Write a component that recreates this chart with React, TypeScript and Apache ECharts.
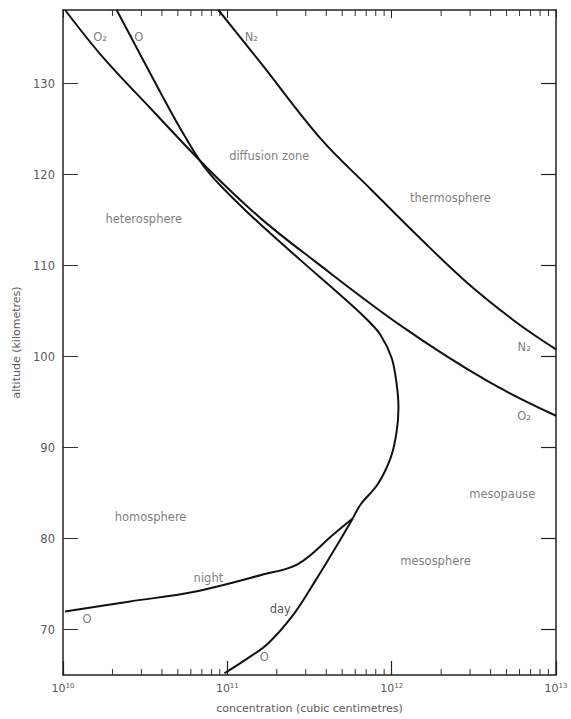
import React, { useEffect, useRef } from "react";
import * as echarts from "echarts";

// Number density profiles: [concentration (cm^-3), altitude (km)]
const n2Curve: [number, number][] = [
  [8.82e10, 138.1], [1.61e11, 132.2], [3.72e11, 123.9], [7.46e11, 118.4],
  [1.5e12, 112.95], [2.89e12, 108.1], [5.81e12, 103.7], [1e13, 100.8],
];
const o2Curve: [number, number][] = [
  [1.03e10, 138.1], [1.72e10, 133.06], [3.46e10, 127.16], [7.67e10, 120.6],
  [1.61e11, 115.14], [3.37e11, 110.55], [1.13e12, 103.44], [3.82e12, 97.32], [1e13, 93.5],
];
const oUpperCurve: [number, number][] = [
  [2.12e10, 138.1], [2.81e10, 133.93], [3.98e10, 128.8], [5.48e10, 124.3],
  [7.67e10, 120.27], [1.4e11, 115.46], [2.81e11, 110.55], [4.91e11, 106.72],
  [6.95e11, 104.21], [8.57e11, 102.35], [1.0e12, 99.84], [1.07e12, 97.1],
  [1.1e12, 94.37], [1.07e12, 91.64], [9.87e11, 88.9], [8.22e11, 85.96],
  [6.49e11, 83.77], [5.81e11, 82.24],
];
const oNightCurve: [number, number][] = [
  [5.81e11, 82.24], [4.45e11, 80.5], [2.69e11, 77.2], [1.61e11, 76.0],
  [6.31e10, 74.15], [2.51e10, 73.06], [1.03e10, 71.97],
];
const oDayCurve: [number, number][] = [
  [5.81e11, 82.24], [4.58e11, 79.07], [3.46e11, 75.46], [2.55e11, 71.75],
  [1.77e11, 68.47], [1.3e11, 66.72], [9.6e10, 65.19],
];

// Annotations: [text, concentration, altitude, strong]
const annotations: [string, number, number, boolean][] = [
  ["O₂", 1.68e10, 135.1, false],
  ["O", 2.89e10, 135.1, false],
  ["N₂", 1.4e11, 135.1, false],
  ["diffusion zone", 1.8e11, 122.1, false],
  ["heterosphere", 3.1e10, 115.1, false],
  ["thermosphere", 2.28e12, 117.4, false],
  ["N₂", 6.4e12, 101.1, false],
  ["O₂", 6.4e12, 93.5, false],
  ["mesopause", 4.71e12, 84.9, false],
  ["mesosphere", 1.85e12, 77.5, false],
  ["homosphere", 3.41e10, 82.35, false],
  ["night", 7.67e10, 75.7, false],
  ["day", 2.1e11, 72.3, true],
  ["O", 1.4e10, 71.2, false],
  ["O", 1.68e11, 67.0, false],
];

const yTickValues = [70, 80, 90, 100, 110, 120, 130];
const xTickExponents = [10, 11, 12, 13];
const xMinorTickValues = [
  2e10, 3e10, 4e10, 5e10, 6e10, 7e10, 8e10, 9e10,
  2e11, 3e11, 4e11, 5e11, 6e11, 7e11, 8e11, 9e11,
  2e12, 3e12, 4e12, 5e12, 6e12, 7e12, 8e12, 9e12,
];

const X_MIN = 1e10;
const X_MAX = 1e13;
const Y_MIN = 65;
const Y_MAX = 138.1;

const FONT = "'DejaVu Sans', 'Liberation Sans', Arial, sans-serif";
const GRAY = "#5a5a5a";

export default function App() {
  const ref = useRef<HTMLDivElement>(null);
  useEffect(() => {
    if (!ref.current) return;
    const chart = echarts.init(ref.current, null, { renderer: "svg" });
    const lineStyle = { color: "#111", width: 2 };
    const mkLine = (name: string, data: [number, number][]) => ({
      type: "line",
      name,
      data,
      smooth: 0.35,
      showSymbol: false,
      symbol: "none",
      lineStyle,
      silent: true,
      xAxisIndex: 0,
      yAxisIndex: 0,
    });
    const option: any = {
      animation: false,
      backgroundColor: "#fff",
      textStyle: { fontFamily: FONT, color: GRAY },
      grid: { left: 63, right: 15, top: 10, bottom: 41, containLabel: false },
      xAxis: [
        {
          type: "log",
          logBase: 10,
          min: X_MIN,
          max: X_MAX,
          position: "bottom",
          name: "concentration (cubic centimetres)",
          nameLocation: "middle",
          nameGap: 28,
          nameTextStyle: { color: GRAY, fontSize: 11, fontFamily: FONT },
          axisLine: { show: true, lineStyle: { color: "#222", width: 1.5 } },
          axisTick: { show: true, inside: true, length: 14, lineStyle: { color: "#222", width: 1.2 } },
          axisLabel: {
            show: true,
            margin: 7,
            color: GRAY,
            fontFamily: FONT,
            formatter: (v: number) => {
              const e = Math.round(Math.log10(v));
              return xTickExponents.includes(e) ? `{b|10}{s|${e}}` : "";
            },
            rich: {
              b: { fontSize: 11, color: GRAY, fontFamily: FONT },
              s: { fontSize: 7, color: GRAY, fontFamily: FONT, verticalAlign: "top", padding: [0, 0, 6, 0] },
            },
          },
          splitLine: { show: false },
        },
        {
          type: "log",
          logBase: 10,
          min: X_MIN,
          max: X_MAX,
          position: "top",
          axisLine: { show: true, lineStyle: { color: "#222", width: 1.5 } },
          axisTick: { show: true, inside: true, length: 8, lineStyle: { color: "#222", width: 1 } },
          axisLabel: { show: false },
          splitLine: { show: false },
        },
      ],
      yAxis: [
        {
          type: "value",
          min: Y_MIN,
          max: Y_MAX,
          position: "left",
          name: "altitude (kilometres)",
          nameLocation: "middle",
          nameGap: 40,
          nameTextStyle: { color: GRAY, fontSize: 11, fontFamily: FONT },
          axisLine: { show: true, lineStyle: { color: "#222", width: 1.5 } },
          axisTick: { show: true, inside: true, length: 15, customValues: yTickValues, lineStyle: { color: "#333", width: 1 } },
          axisLabel: { show: true, margin: 8, color: GRAY, fontSize: 11.5, fontFamily: FONT, customValues: yTickValues },
          splitLine: { show: false },
        },
        {
          type: "value",
          min: Y_MIN,
          max: Y_MAX,
          position: "right",
          axisLine: { show: true, lineStyle: { color: "#222", width: 1.5 } },
          axisTick: { show: true, inside: true, length: 15, customValues: yTickValues, lineStyle: { color: "#222", width: 1.2 } },
          axisLabel: { show: false, customValues: yTickValues },
          splitLine: { show: false },
        },
      ],
      series: [
        mkLine("N2", n2Curve),
        mkLine("O2", o2Curve),
        mkLine("O", oUpperCurve),
        mkLine("O night", oNightCurve),
        mkLine("O day", oDayCurve),
        {
          type: "custom",
          name: "minor ticks",
          silent: true,
          xAxisIndex: 0,
          yAxisIndex: 0,
          data: xMinorTickValues.map((v) => [v, Y_MIN]),
          encode: { x: 0, y: 1 },
          renderItem: (params: any, api: any) => {
            const pt = api.coord([api.value(0), Y_MIN]);
            const cs = params.coordSys;
            const st = { stroke: "#333", lineWidth: 1 };
            return {
              type: "group",
              children: [
                { type: "line", shape: { x1: pt[0], y1: cs.y + cs.height, x2: pt[0], y2: cs.y + cs.height - 6 }, style: st },
                { type: "line", shape: { x1: pt[0], y1: cs.y, x2: pt[0], y2: cs.y + 6 }, style: st },
              ],
            };
          },
        },
        {
          type: "scatter",
          name: "labels",
          silent: true,
          symbolSize: 0,
          itemStyle: { color: GRAY },
          xAxisIndex: 0,
          yAxisIndex: 0,
          data: annotations.map(([t, x, y, strong]) => ({
            name: t,
            value: [x, y],
            label: { color: strong ? "#222" : GRAY },
          })),
          label: {
            show: true,
            position: "inside",
            formatter: "{b}",
            fontSize: 11.5,
            fontFamily: FONT,
            color: GRAY,
            textBorderWidth: 0,
            textBorderColor: "transparent",
          },
        },
      ],
    };
    chart.setOption(option);
    return () => chart.dispose();
  }, []);
  return (
    <div
      ref={ref}
      style={{ position: "absolute", left: 0, top: 0, width: 571, height: 719, background: "#fff" }}
    />
  );
}
